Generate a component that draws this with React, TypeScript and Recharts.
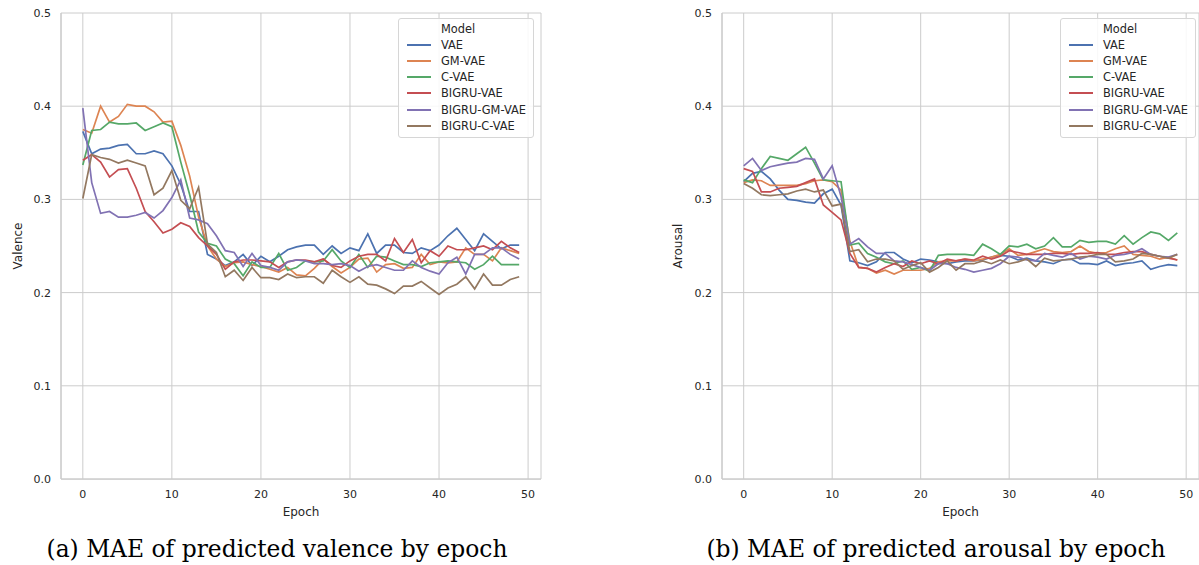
import React from 'react';
import { LineChart, Line, XAxis, YAxis, CartesianGrid } from 'recharts';

const epochs = [0,1,2,3,4,5,6,7,8,9,10,11,12,13,14,15,16,17,18,19,20,21,22,23,24,25,26,27,28,29,30,31,32,33,34,35,36,37,38,39,40,41,42,43,44,45,46,47,48,49];

const modelNames = ['VAE', 'GM-VAE', 'C-VAE', 'BIGRU-VAE', 'BIGRU-GM-VAE', 'BIGRU-C-VAE'];
const modelColors = ['#4C72B0', '#DD8452', '#55A868', '#C44E52', '#8172B3', '#937860'];

const xTicks = [0, 10, 20, 30, 40, 50];
const yTicks = [0, 0.1, 0.2, 0.3, 0.4, 0.5];

// Valence MAE
const valVAE = [0.373,0.349,0.354,0.355,0.358,0.359,0.349,0.349,0.352,0.349,0.336,0.316,0.287,0.287,0.241,0.236,0.229,0.233,0.241,0.229,0.239,0.233,0.239,0.246,0.249,0.251,0.251,0.241,0.250,0.242,0.248,0.245,0.263,0.242,0.251,0.251,0.243,0.242,0.248,0.245,0.251,0.261,0.269,0.257,0.245,0.263,0.255,0.247,0.251,0.251];
const valGMVAE = [0.375,0.371,0.400,0.383,0.389,0.402,0.400,0.400,0.394,0.383,0.384,0.358,0.325,0.281,0.250,0.236,0.228,0.232,0.233,0.230,0.228,0.225,0.222,0.227,0.219,0.218,0.226,0.236,0.228,0.221,0.227,0.236,0.237,0.222,0.230,0.231,0.226,0.227,0.241,0.230,0.233,0.232,0.233,0.248,0.241,0.241,0.234,0.248,0.245,0.242];
const valCVAE = [0.337,0.374,0.375,0.383,0.381,0.381,0.382,0.374,0.378,0.382,0.378,0.340,0.305,0.265,0.253,0.250,0.236,0.231,0.218,0.233,0.227,0.227,0.242,0.224,0.227,0.234,0.233,0.234,0.246,0.234,0.227,0.241,0.227,0.239,0.238,0.234,0.230,0.230,0.228,0.232,0.233,0.234,0.233,0.232,0.225,0.230,0.239,0.230,0.230,0.230];
const valBiVAE = [0.342,0.348,0.340,0.324,0.332,0.333,0.312,0.287,0.276,0.264,0.268,0.275,0.271,0.259,0.250,0.241,0.225,0.233,0.235,0.235,0.234,0.233,0.227,0.233,0.235,0.235,0.233,0.236,0.229,0.227,0.234,0.239,0.241,0.241,0.234,0.258,0.243,0.257,0.232,0.245,0.239,0.250,0.246,0.246,0.248,0.250,0.246,0.255,0.248,0.243];
const valBiGMVAE = [0.398,0.318,0.285,0.287,0.281,0.281,0.283,0.286,0.280,0.288,0.302,0.321,0.280,0.278,0.274,0.261,0.245,0.243,0.228,0.242,0.229,0.227,0.224,0.233,0.235,0.234,0.231,0.231,0.230,0.231,0.229,0.223,0.228,0.230,0.227,0.224,0.224,0.234,0.227,0.223,0.220,0.232,0.238,0.220,0.241,0.241,0.248,0.248,0.241,0.236];
const valBiCVAE = [0.301,0.348,0.345,0.343,0.339,0.342,0.339,0.336,0.305,0.312,0.331,0.299,0.290,0.313,0.252,0.243,0.217,0.224,0.213,0.227,0.216,0.216,0.214,0.220,0.216,0.217,0.217,0.210,0.224,0.217,0.211,0.217,0.209,0.208,0.204,0.199,0.207,0.207,0.212,0.205,0.198,0.205,0.209,0.217,0.204,0.220,0.208,0.208,0.214,0.217];

// Arousal MAE
const aroVAE = [0.319,0.328,0.330,0.322,0.310,0.300,0.299,0.297,0.296,0.306,0.311,0.294,0.234,0.232,0.229,0.233,0.243,0.243,0.236,0.232,0.236,0.235,0.233,0.231,0.233,0.234,0.234,0.235,0.238,0.240,0.239,0.235,0.237,0.234,0.233,0.231,0.235,0.236,0.231,0.231,0.230,0.234,0.229,0.231,0.232,0.234,0.225,0.228,0.230,0.229];
const aroGMVAE = [0.318,0.321,0.320,0.315,0.315,0.315,0.315,0.317,0.320,0.321,0.319,0.310,0.255,0.227,0.226,0.221,0.224,0.220,0.224,0.224,0.224,0.226,0.233,0.234,0.234,0.236,0.234,0.236,0.238,0.241,0.247,0.240,0.241,0.244,0.247,0.244,0.243,0.244,0.250,0.244,0.242,0.243,0.247,0.250,0.241,0.240,0.239,0.236,0.238,0.235];
const aroCVAE = [0.321,0.318,0.333,0.346,0.344,0.342,0.349,0.356,0.339,0.321,0.320,0.319,0.251,0.253,0.242,0.238,0.233,0.231,0.234,0.225,0.227,0.223,0.240,0.241,0.241,0.241,0.240,0.252,0.247,0.241,0.250,0.249,0.252,0.247,0.250,0.259,0.249,0.249,0.256,0.254,0.255,0.255,0.252,0.261,0.252,0.259,0.265,0.263,0.256,0.264];
const aroBiVAE = [0.333,0.330,0.308,0.308,0.312,0.313,0.314,0.318,0.322,0.294,0.286,0.278,0.242,0.227,0.226,0.222,0.227,0.231,0.228,0.234,0.231,0.234,0.231,0.236,0.234,0.236,0.235,0.239,0.236,0.239,0.245,0.243,0.241,0.241,0.241,0.242,0.242,0.241,0.242,0.242,0.243,0.241,0.241,0.243,0.244,0.244,0.241,0.239,0.237,0.235];
const aroBiGMVAE = [0.336,0.344,0.331,0.335,0.337,0.339,0.340,0.344,0.343,0.322,0.336,0.303,0.252,0.258,0.249,0.242,0.242,0.234,0.233,0.230,0.227,0.224,0.231,0.231,0.227,0.225,0.222,0.224,0.226,0.231,0.239,0.238,0.235,0.234,0.242,0.240,0.238,0.242,0.236,0.239,0.238,0.236,0.240,0.241,0.243,0.247,0.241,0.239,0.238,0.241];
const aroBiCVAE = [0.317,0.312,0.305,0.304,0.305,0.306,0.309,0.311,0.308,0.310,0.293,0.295,0.244,0.246,0.233,0.236,0.236,0.234,0.225,0.229,0.232,0.222,0.227,0.234,0.224,0.231,0.231,0.234,0.231,0.235,0.231,0.233,0.236,0.228,0.237,0.234,0.235,0.236,0.238,0.239,0.241,0.241,0.233,0.234,0.236,0.242,0.241,0.239,0.237,0.241];

const valSeries = [valVAE, valGMVAE, valCVAE, valBiVAE, valBiGMVAE, valBiCVAE];
const aroSeries = [aroVAE, aroGMVAE, aroCVAE, aroBiVAE, aroBiGMVAE, aroBiCVAE];

const buildRows = (series: number[][]) =>
  epochs.map((e, i) => {
    const row: Record<string, number> = { epoch: e };
    modelNames.forEach((m, k) => {
      row[m] = series[k][i];
    });
    return row;
  });

const FONT = '"DejaVu Sans", sans-serif';
const TEXT = '#262626';
const GRID = '#cccccc';

const Legend = ({ left }: { left: number }) => (
  <div
    style={{
      position: 'absolute',
      left,
      top: 18,
      width: 136,
      height: 120,
      border: '1px solid #d6d6d6',
      borderRadius: 3,
      background: 'rgba(255,255,255,0.85)',
      fontFamily: FONT,
      fontSize: 11.4,
      color: TEXT,
      boxSizing: 'border-box',
    }}
  >
    <div style={{ position: 'absolute', left: 42, top: 2, lineHeight: '16px' }}>Model</div>
    {modelNames.map((m, k) => (
      <div key={m} style={{ position: 'absolute', left: 0, top: 18 + k * 16.15, height: 16, width: '100%' }}>
        <div style={{ position: 'absolute', left: 8, top: 7, width: 24, height: 2, background: modelColors[k] }} />
        <div style={{ position: 'absolute', left: 42, top: 0, lineHeight: '16px', whiteSpace: 'nowrap' }}>{m}</div>
      </div>
    ))}
  </div>
);

const Panel = ({ rows, yLabel, left, width, yAxisWidth, rightMargin }: any) => (
  <div style={{ position: 'absolute', left, top: 0 }}>
    <LineChart width={width} height={530} data={rows} margin={{ top: 13, right: rightMargin, left: 0, bottom: 0 }}>
      <CartesianGrid stroke={GRID} strokeWidth={1} />
      <XAxis
        dataKey="epoch"
        type="number"
        domain={[-2.45, 51.45]}
        ticks={xTicks}
        allowDataOverflow
        height={51}
        tickLine={false}
        tickSize={0}
        tickMargin={11}
        axisLine={{ stroke: GRID, strokeWidth: 1.25 }}
        tick={{ fill: TEXT, fontSize: 11, fontFamily: FONT }}
        label={{ value: 'Epoch', position: 'insideBottom', offset: 14, fill: TEXT, fontSize: 12, fontFamily: FONT }}
      />
      <XAxis xAxisId="top" orientation="top" dataKey="epoch" type="number" domain={[-2.45, 51.45]} height={0} tick={false} tickLine={false} axisLine={{ stroke: GRID, strokeWidth: 1.25 }} />
      <YAxis
        type="number"
        domain={[0, 0.5]}
        ticks={yTicks}
        width={yAxisWidth}
        tickLine={false}
        tickSize={0}
        tickMargin={10}
        axisLine={{ stroke: GRID, strokeWidth: 1.25 }}
        tickFormatter={(v: number) => v.toFixed(1)}
        tick={{ fill: TEXT, fontSize: 11, fontFamily: FONT }}
        label={{ value: yLabel, angle: -90, position: 'insideLeft', offset: 18, fill: TEXT, fontSize: 12, fontFamily: FONT, style: { textAnchor: 'middle' } }}
      />
      <YAxis yAxisId="right" orientation="right" domain={[0, 0.5]} width={0} tick={false} tickLine={false} axisLine={{ stroke: GRID, strokeWidth: 1.25 }} />
      {modelNames.map((m, k) => (
        <Line key={m} dataKey={m} type="linear" stroke={modelColors[k]} strokeWidth={1.7} dot={false} isAnimationActive={false} />
      ))}
    </LineChart>
  </div>
);

export default function App() {
  const valRows = buildRows(valSeries);
  const aroRows = buildRows(aroSeries);
  return (
    <div style={{ position: 'absolute', left: 0, top: 0, width: 1199, height: 565, background: '#fff', overflow: 'hidden' }}>
      <Panel rows={valRows} yLabel="Valence" left={0} width={560} yAxisWidth={61} rightMargin={19} />
      <Panel rows={aroRows} yLabel="Arousal" left={660} width={539} yAxisWidth={62} rightMargin={0} />
      <Legend left={398} />
      <Legend left={1060} />
      <svg width={1199} height={565} style={{ position: 'absolute', left: 0, top: 0, pointerEvents: 'none' }}>
        <text x={277} y={557} textAnchor="middle" fontFamily='"DejaVu Serif", serif' fontSize={23.4} fill="#000">(a) MAE of predicted valence by epoch</text>
        <text x={936} y={557} textAnchor="middle" fontFamily='"DejaVu Serif", serif' fontSize={23.4} fill="#000">(b) MAE of predicted arousal by epoch</text>
      </svg>
    </div>
  );
}
